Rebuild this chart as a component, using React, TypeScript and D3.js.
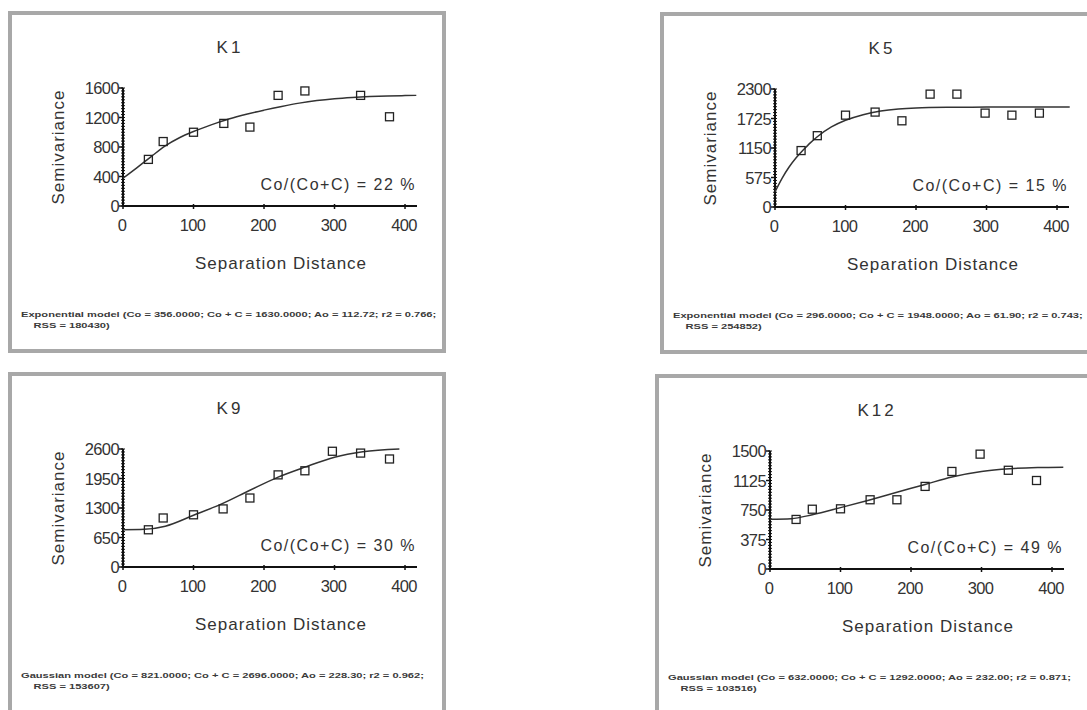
import React from "react";
import * as d3 from "d3";

// lag distances and semivariances
const k1Lags = [36, 57, 100, 143, 180, 220, 258, 337, 378];
const k1Gamma = [632, 874, 1000, 1120, 1070, 1500, 1560, 1500, 1210];
const k1ModelLags = [0, 20, 40, 60, 80, 100, 125, 150, 175, 200, 225, 250, 275, 300, 325, 350, 375, 400, 416];
const k1ModelGamma = [376, 520, 670, 815, 925, 1010, 1100, 1180, 1245, 1300, 1350, 1395, 1430, 1455, 1472, 1484, 1492, 1497, 1500];

const k5Lags = [37, 60, 100, 142, 180, 220, 258, 298, 336, 375];
const k5Gamma = [1100, 1390, 1790, 1850, 1680, 2200, 2200, 1830, 1790, 1830];
const k5ModelLags = [0, 10, 20, 30, 40, 50, 60, 80, 100, 125, 150, 175, 200, 250, 300, 350, 418];
const k5ModelGamma = [296, 560, 780, 960, 1110, 1250, 1370, 1560, 1690, 1800, 1870, 1910, 1930, 1943, 1947, 1948, 1948];

const k9Lags = [36, 57, 100, 142, 180, 220, 258, 297, 337, 378];
const k9Gamma = [820, 1080, 1150, 1280, 1520, 2030, 2120, 2550, 2510, 2380];
const k9ModelLags = [0, 30, 60, 100, 140, 180, 220, 258, 300, 340, 392];
const k9ModelGamma = [821, 830, 900, 1140, 1390, 1690, 1980, 2200, 2420, 2540, 2600];

const k12Lags = [37, 60, 100, 142, 180, 220, 258, 298, 338, 378];
const k12Gamma = [630, 760, 765, 880, 880, 1050, 1240, 1460, 1255, 1125];
const k12ModelLags = [0, 30, 60, 100, 140, 180, 220, 258, 300, 340, 380, 416];
const k12ModelGamma = [632, 640, 690, 780, 875, 975, 1075, 1170, 1240, 1275, 1290, 1295];

const xTicks = [0, 100, 200, 300, 400];
const k1Ticks = [0, 400, 800, 1200, 1600];
const k5Ticks = [0, 575, 1150, 1725, 2300];
const k9Ticks = [0, 650, 1300, 1950, 2600];
const k12Ticks = [0, 375, 750, 1125, 1500];

const panels = [
  {
    title: "K1", x: 8, y: 11, lags: k1Lags, gamma: k1Gamma, mLags: k1ModelLags, mGamma: k1ModelGamma,
    ticks: k1Ticks, ratio: "Co/(Co+C) = 22 %",
    note: ["Exponential model (Co = 356.0000; Co + C = 1630.0000; Ao = 112.72; r2 = 0.766;", "RSS = 180430)"],
  },
  {
    title: "K5", x: 660, y: 12, lags: k5Lags, gamma: k5Gamma, mLags: k5ModelLags, mGamma: k5ModelGamma,
    ticks: k5Ticks, ratio: "Co/(Co+C) = 15 %",
    note: ["Exponential model (Co = 296.0000; Co + C = 1948.0000; Ao = 61.90; r2 = 0.743;", "RSS = 254852)"],
  },
  {
    title: "K9", x: 8, y: 372, lags: k9Lags, gamma: k9Gamma, mLags: k9ModelLags, mGamma: k9ModelGamma,
    ticks: k9Ticks, ratio: "Co/(Co+C) = 30 %",
    note: ["Gaussian model (Co = 821.0000; Co + C = 2696.0000; Ao = 228.30; r2 = 0.962;", "RSS = 153607)"],
  },
  {
    title: "K12", x: 655, y: 374, lags: k12Lags, gamma: k12Gamma, mLags: k12ModelLags, mGamma: k12ModelGamma,
    ticks: k12Ticks, ratio: "Co/(Co+C) = 49 %",
    note: ["Gaussian model (Co = 632.0000; Co + C = 1292.0000; Ao = 232.00; r2 = 0.871;", "RSS = 103516)"],
  },
];

const font = "'Liberation Sans', Arial, sans-serif";
const ink = "#333";

function Panel({ p }: { p: any }) {
  const x = d3.scaleLinear().domain([0, 417]).range([115, 409]);
  const top = p.ticks[p.ticks.length - 1];
  const y = d3.scaleLinear().domain([0, top]).range([195, 77]);
  const step = p.ticks[1] / 10;
  const minor = d3.range(0, top + step / 2, step);
  const line = d3
    .line<number>()
    .x((d) => x(d))
    .y((_, i) => y(p.mGamma[i]))
    .curve(d3.curveMonotoneX);

  return (
    <g transform={`translate(${p.x},${p.y})`}>
      <rect x={2} y={2} width={434} height={338} fill="#fff" stroke="#a8a8a8" strokeWidth={4} />
      <text x={222} y={42} textAnchor="middle" fontSize={17} letterSpacing={3} fill={ink} fontFamily={font}>
        {p.title}
      </text>
      <text
        transform={`translate(56,136) rotate(-90)`}
        textAnchor="middle"
        fontSize={17}
        letterSpacing={1}
        fill={ink}
        fontFamily={font}
      >
        Semivariance
      </text>
      {/* y axis */}
      <line x1={x(0)} x2={x(0)} y1={y(0)} y2={y(top)} stroke="#111" strokeWidth={2} />
      {minor.map((v: number, i: number) => (
        <line key={"m" + i} x1={x(0) - 2} x2={x(0) + 2} y1={y(v)} y2={y(v)} stroke="#111" strokeWidth={1} />
      ))}
      {p.ticks.map((t: number) => (
        <g key={"y" + t}>
          <line x1={x(0) - 4} x2={x(0)} y1={y(t)} y2={y(t)} stroke="#111" strokeWidth={1.5} />
          <text x={x(0) - 4} y={y(t) + 6} textAnchor="end" fontSize={16.5} letterSpacing={-0.6} fill={ink} fontFamily={font}>
            {t}
          </text>
        </g>
      ))}
      {/* x axis */}
      <line x1={x(0)} x2={x(417)} y1={y(0)} y2={y(0)} stroke="#111" strokeWidth={2} />
      {xTicks.map((t) => (
        <g key={"x" + t}>
          <line x1={x(t)} x2={x(t)} y1={y(0) - 2} y2={y(0) + 3} stroke="#111" strokeWidth={1.5} />
          <text x={x(t) - 1} y={220} textAnchor="middle" fontSize={16.5} letterSpacing={-0.6} fill={ink} fontFamily={font}>
            {t}
          </text>
        </g>
      ))}
      <text x={273} y={258} textAnchor="middle" fontSize={17} letterSpacing={1} fill={ink} fontFamily={font}>
        Separation Distance
      </text>
      <text x={408} y={179} textAnchor="end" fontSize={16} letterSpacing={1.5} fill={ink} fontFamily={font}>
        {p.ratio}
      </text>
      {/* fitted model */}
      <path d={line(p.mLags) || ""} fill="none" stroke="#333" strokeWidth={1.5} />
      {/* experimental semivariances */}
      {p.lags.map((l: number, i: number) => (
        <rect
          key={"p" + i}
          x={x(l) - 4}
          y={y(p.gamma[i]) - 4}
          width={8}
          height={8}
          fill="none"
          stroke="#222"
          strokeWidth={1.3}
        />
      ))}
      <g transform="translate(13,306) scale(1.39,1)" fontSize={8} fontWeight="bold" fill="#3a3a3a" fontFamily={font}>
        <text x={0} y={0}>{p.note[0]}</text>
        <text x={9} y={11}>{p.note[1]}</text>
      </g>
    </g>
  );
}

export default function App() {
  return (
    <div style={{ position: "absolute", left: 0, top: 0 }}>
      <svg width={1087} height={710} style={{ display: "block", background: "#fff" }}>
        {panels.map((p) => (
          <Panel key={p.title} p={p} />
        ))}
      </svg>
    </div>
  );
}
